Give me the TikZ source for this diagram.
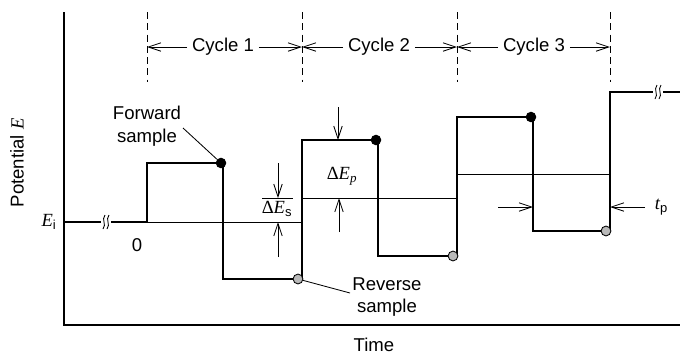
\documentclass[tikz,border=0pt]{standalone}
\usepackage{fontspec}
\setmainfont{Liberation Sans}
\newfontfamily\serif{Liberation Serif}
\usetikzlibrary{arrows.meta}
\newcommand{\Evar}{{\serif\itshape E}}
\newcommand{\dE}{{\serif Δ\itshape E}}
\newcommand{\brk}[2]{%
  \fill[white] ({#1-5},{#2-4}) rectangle ({#1+5},{#2+4});
  \draw[line width=0.6pt] ({#1-1},{#2-7}) .. controls ({#1-5},{#2-2}) and ({#1+1},{#2+2}) .. ({#1-3},{#2+7});
  \draw[line width=0.6pt] ({#1+3},{#2-7}) .. controls ({#1-1},{#2-2}) and ({#1+5},{#2+2}) .. ({#1+1},{#2+7});}

\begin{document}
\begin{tikzpicture}[x=0.025cm,y=-0.025cm,
    stair/.style={line width=2.1pt,line join=miter},
    thinline/.style={line width=0.6pt},
    barb/.style={-{Straight Barb[length=9pt,width=6pt]},line width=0.6pt},
    fwd/.style={circle,fill=black,inner sep=0pt,minimum size=7.5pt},
    rev/.style={circle,draw=black,fill=gray!55,inner sep=0pt,minimum size=7pt,line width=0.6pt},
    every node/.style={font=\fontsize{13.2}{16}\selectfont}]
    \useasboundingbox (0,0) rectangle (680,357);

    % axes
    \coordinate (top) at (64,12);
    \coordinate (orig) at (64,325);
    \coordinate (xend) at (680,325);
    \draw[line width=0.9pt] (top) -- (orig) -- (xend);

    % cycle boundaries
    \foreach \name/\x in {d1/147,d2/302,d3/457,d4/610} {
      \coordinate (\name) at (\x,12);
      \draw[thinline,dash pattern=on 5pt off 3pt] (\name) -- (\x,82);
    }
    \node (cyc1) at (223,47) {Cycle 1};
    \node (cyc2) at (379,47) {Cycle 2};
    \node (cyc3) at (534,47) {Cycle 3};
    \draw[barb] (cyc1.west) -- (cyc1 -| d1);
    \draw[barb] (cyc1.east) -- (cyc1 -| d2);
    \draw[barb] (cyc2.west) -- (cyc2 -| d2);
    \draw[barb] (cyc2.east) -- (cyc2 -| d3);
    \draw[barb] (cyc3.west) -- (cyc3 -| d3);
    \draw[barb] (cyc3.east) -- (cyc3 -| d4);

    % staircase baselines
    \draw[thinline] (147,222) -- (302,222);
    \draw[thinline] (302,198) -- (457,198);
    \draw[thinline] (457,174) -- (610,174);
    \draw[thinline] (262,198) -- (293,198);

    % potential waveform
    \draw[stair] (64,222) -- (147,222) -- (147,163) -- (223,163) -- (223,279)
      -- (302,279) -- (302,140) -- (378,140) -- (378,256) -- (457,256)
      -- (457,117) -- (533,117) -- (533,231) -- (610,231) -- (610,92) -- (680,92);
    \brk{106}{222}
    \brk{658}{92}

    % samples
    \node[fwd] (f1) at (221,163) {};
    \node[fwd] (f2) at (376,140) {};
    \node[fwd] (f3) at (531,117) {};
    \node[rev] (r1) at (298,279) {};
    \node[rev] (r2) at (453,256) {};
    \node[rev] (r3) at (606,231) {};

    \node[align=center] (fs) at (147,126) {Forward\\sample};
    \node[align=center] (rs) at (387,297) {Reverse\\sample};
    \coordinate (fsl) at (183,128);
    \coordinate (rsl) at (350,293);
    \draw[thinline] (fsl) -- (f1);
    \draw[thinline] (rsl) -- (r1);

    % step height
    \node (des) at (277,209) {\dE\textsubscript{s}};
    \coordinate (es1) at (278,163);
    \coordinate (es2) at (278,198);
    \coordinate (es3) at (278,257);
    \coordinate (es4) at (278,222);
    \draw[barb] (es1) -- (es2);
    \draw[barb] (es3) -- (es4);

    % pulse height
    \node (dep) at (342,176) {\dE\textsubscript{\serif\itshape p}};
    \coordinate (ep1) at (338,107);
    \coordinate (ep2) at (338,140);
    \coordinate (ep3) at (339,232);
    \coordinate (ep4) at (339,198);
    \draw[barb] (ep1) -- (ep2);
    \draw[barb] (ep3) -- (ep4);

    % pulse width
    \node[anchor=west] (tp) at (650,207) {{\serif\itshape t}\textsubscript{p}};
    \coordinate (tp1) at (498,207);
    \coordinate (tp2) at (533,207);
    \coordinate (tp3) at (645,207);
    \coordinate (tp4) at (610,207);
    \draw[barb] (tp1) -- (tp2);
    \draw[barb] (tp3) -- (tp4);

    % labels
    \node (ei) at (49,222) {\Evar\textsubscript{i}};
    \node (zero) at (137,245) {0};
    \node[rotate=90] (ylab) at (17,163) {Potential \Evar};
    \node (xlab) at (374,345) {Time};
\end{tikzpicture}
\end{document}
